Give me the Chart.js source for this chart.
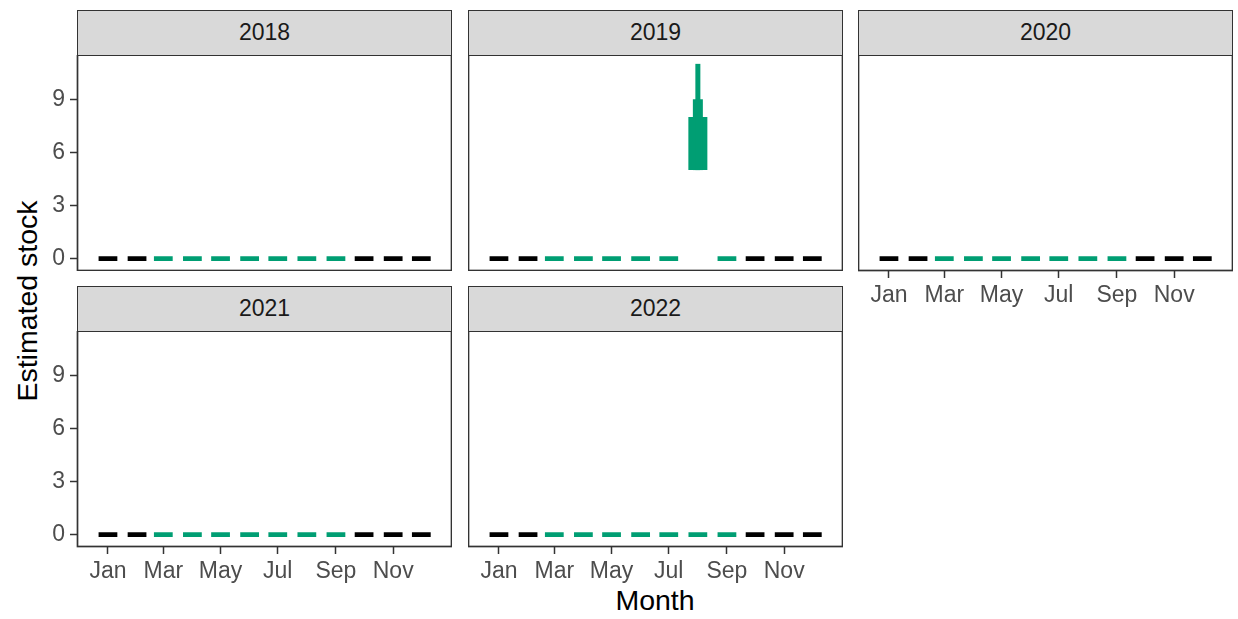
<!DOCTYPE html>
<html>
<head>
<meta charset="utf-8">
<script src="https://cdn.jsdelivr.net/npm/chart.js@4"></script>
<style>
  body { margin: 0; background: #fff; font-family: "Liberation Sans", Arial, sans-serif; }
  #wrap { position: relative; width: 1238px; height: 619px; overflow: hidden; }
  canvas { position: absolute; }
  .strip {
    position: absolute; box-sizing: border-box; width: 375px; height: 46px;
    background: #D9D9D9; border: 1.6px solid #333333;
    color: #1A1A1A; font-size: 23px; line-height: 42px; text-align: center;
  }
  .title { position: absolute; color: #000; font-size: 28.5px; white-space: nowrap; }
</style>
</head>
<body>
<div id="wrap">
  <div class="title" id="ytitle" style="left:27px; top:301px; transform: translate(-50%, -50%) rotate(-90deg);">Estimated stock</div>
  <div class="title" id="xtitle" style="left:655px; top:600px; transform: translate(-50%, -50%);">Month</div>
</div>
<script>
// facets
const years = ['2018', '2019', '2020', '2021', '2022']

// day of year on which each month starts (x positions)
const monthStart = [0, 31, 59, 90, 120, 151, 181, 212, 243, 273, 304, 334]
// months coloured green
const inSeason = [false, false, true, true, true, true, true, true, true, false, false, false]

const xTickDays = [0, 59, 120, 181, 243, 304]
const xTickLabels = ['Jan', 'Mar', 'May', 'Jul', 'Sep', 'Nov']
const yTicks = [0, 3, 6, 9]

// estimated stock per month, null = no point estimate
const stock2018 = [0, 0, 0, 0, 0, 0, 0, 0, 0, 0, 0, 0]
const stock2019 = [0, 0, 0, 0, 0, 0, 0, null, 0, 0, 0, 0]
const stock2020 = [0, 0, 0, 0, 0, 0, 0, 0, 0, 0, 0, 0]
const stock2021 = [0, 0, 0, 0, 0, 0, 0, 0, 0, 0, 0, 0]
const stock2022 = [0, 0, 0, 0, 0, 0, 0, 0, 0, 0, 0, 0]
const stocks = [stock2018, stock2019, stock2020, stock2021, stock2022]

// 2019 August ranges (outer, middle, inner)
const rangeMonth2019 = 7
const ranges2019 = [[5, 11], [5, 9], [5, 8]]

const GREEN = '#009E73'
const BLACK = '#000000'
const rangeWidths = [5, 10, 19]
const dashHalf = 10
const panelW = 375, panelH = 216
const colLeft = [77, 468, 858]
const rowTop = [55, 331]
const yAxisW = 77, xAxisH = 50

const panelBorder = {
    id: 'panelBorder',
    afterDraw(chart) {
        const a = chart.chartArea
        const c = chart.ctx
        c.save()
        c.strokeStyle = '#333333'
        c.lineWidth = 1.7
        c.strokeRect(a.left + 0.5, a.top, a.right - a.left - 1, a.bottom - a.top - 0.5)
        c.restore()
    }
}

function dashes(values, season) {
    const pts = []
    values.forEach((v, m) => {
        if (v === null || inSeason[m] !== season) return
        pts.push({x: monthStart[m] - dashHalf, y: v})
        pts.push({x: monthStart[m] + dashHalf, y: v})
        pts.push({x: monthStart[m] + dashHalf, y: null})
    })
    return pts
}

const wrap = document.getElementById('wrap')

years.forEach((year, i) => {
    const col = i % 3
    const row = Math.floor(i / 3)
    const hasY = col === 0
    const hasX = row === 1 || i === 2

    const strip = document.createElement('div')
    strip.className = 'strip'
    strip.style.left = colLeft[col] + 'px'
    strip.style.top = (rowTop[row] - 45) + 'px'
    strip.textContent = year
    wrap.appendChild(strip)

    const cv = document.createElement('canvas')
    const w = panelW + (hasY ? yAxisW : 0)
    const h = panelH + (hasX ? xAxisH : 0)
    cv.width = w
    cv.height = h
    cv.style.width = w + 'px'
    cv.style.height = h + 'px'
    cv.style.left = (colLeft[col] - (hasY ? yAxisW : 0)) + 'px'
    cv.style.top = rowTop[row] + 'px'
    wrap.appendChild(cv)

    const lineStyle = {
        type: 'line',
        pointRadius: 0,
        borderWidth: 4.7,
        borderCapStyle: 'butt',
        spanGaps: false,
        fill: false
    }
    const datasets = [
        {...lineStyle, borderColor: BLACK, data: dashes(stocks[i], false)},
        {...lineStyle, borderColor: GREEN, data: dashes(stocks[i], true)}
    ]
    if (year === '2019') {
        ranges2019.forEach((r, k) => {
            datasets.push({
                ...lineStyle,
                borderColor: GREEN,
                borderWidth: rangeWidths[k],
                data: [{x: monthStart[rangeMonth2019], y: r[0]}, {x: monthStart[rangeMonth2019], y: r[1]}]
            })
        })
    }

    new Chart(cv, {
        type: 'line',
        data: {datasets: datasets},
        options: {
            responsive: false,
            animation: false,
            devicePixelRatio: 1,
            layout: {padding: 0},
            plugins: {legend: {display: false}, tooltip: {enabled: false}},
            scales: {
                x: {
                    type: 'linear',
                    min: -33,
                    max: 366.7,
                    display: hasX,
                    afterBuildTicks: s => { s.ticks = xTickDays.map(v => ({value: v})) },
                    afterFit: s => {
                        if (hasX) s.height = xAxisH
                        s.paddingLeft = 0
                        s.paddingRight = 0
                    },
                    grid: {drawOnChartArea: false, drawTicks: true, tickLength: 7, tickColor: '#333333', tickWidth: 1.5},
                    border: {display: false},
                    ticks: {
                        color: '#4D4D4D',
                        font: {family: 'Liberation Sans', size: 23},
                        padding: 4,
                        maxRotation: 0,
                        autoSkip: false,
                        callback: (v, idx) => xTickLabels[idx]
                    }
                },
                y: {
                    type: 'linear',
                    min: -0.7,
                    max: 11.5,
                    display: hasY,
                    afterBuildTicks: s => { s.ticks = yTicks.map(v => ({value: v})) },
                    afterFit: s => {
                        if (hasY) s.width = yAxisW
                        s.paddingTop = 0
                        s.paddingBottom = 0
                    },
                    grid: {drawOnChartArea: false, drawTicks: true, tickLength: 7, tickColor: '#333333', tickWidth: 1.5},
                    border: {display: false},
                    ticks: {
                        color: '#4D4D4D',
                        font: {family: 'Liberation Sans', size: 23},
                        padding: 5,
                        autoSkip: false,
                        callback: v => String(v)
                    }
                }
            }
        },
        plugins: [panelBorder]
    })
})
</script>
</body>
</html>
